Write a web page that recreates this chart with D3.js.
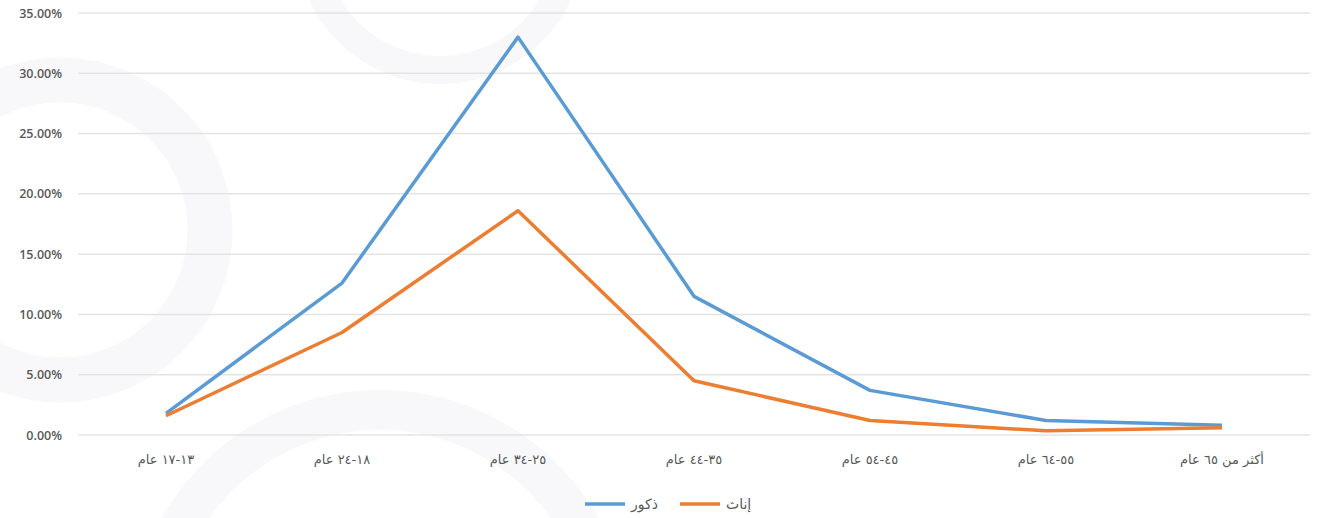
<!DOCTYPE html>
<html>
<head>
<meta charset="utf-8">
<script src="https://cdn.jsdelivr.net/npm/d3@7"></script>
<style>
  html, body { margin: 0; padding: 0; background: #ffffff; }
  svg { display: block; }
</style>
</head>
<body>
<svg id="chart" width="1322" height="518"></svg>
<script>
const categories = ["١٣-١٧ عام", "١٨-٢٤ عام", "٢٥-٣٤ عام", "٣٥-٤٤ عام", "٤٥-٥٤ عام", "٥٥-٦٤ عام", "أكثر من ٦٥ عام"];
const males   = [1.8, 12.6, 33.0, 11.5, 3.7, 1.2, 0.8];
const females = [1.6, 8.5, 18.6, 4.5, 1.2, 0.35, 0.6];
const yTicks  = [0, 5, 10, 15, 20, 25, 30, 35];
const seriesNames = ["ذكور", "إناث"];

const svg = d3.select("#chart");
const W = 1322, H = 518;
const margin = { left: 78, right: 12, top: 13, bottom: 83 };

// faint watermark decoration
const wm = svg.append("g").attr("fill", "none").attr("stroke", "#f8f8fa");
wm.append("circle").attr("cx", 440).attr("cy", -60).attr("r", 130).attr("stroke-width", 28);
wm.append("circle").attr("cx", 60).attr("cy", 230).attr("r", 150).attr("stroke-width", 45);
wm.append("circle").attr("cx", 380).attr("cy", 640).attr("r", 230).attr("stroke-width", 40);

const x = d3.scaleBand().domain(categories).range([margin.left, W - margin.right]);
const y = d3.scaleLinear().domain([0, 35]).range([H - margin.bottom, margin.top]);

// gridlines
svg.append("g").selectAll("line").data(yTicks).join("line")
  .attr("x1", margin.left).attr("x2", W - margin.right)
  .attr("y1", d => y(d)).attr("y2", d => y(d))
  .attr("stroke", "#e4e4e4").attr("stroke-width", 1.5);

// y axis labels
const yAxis = d3.axisLeft(y).tickValues(yTicks).tickSize(0).tickPadding(16)
  .tickFormat(d => d.toFixed(2) + "%");
const yg = svg.append("g").attr("transform", `translate(${margin.left},0)`).call(yAxis);
yg.select(".domain").remove();
yg.selectAll("text").attr("font-family", "'Open Sans', sans-serif").attr("font-size", 12.5)
  .attr("font-weight", 600).attr("fill", "#595959");

// x axis labels
const xAxis = d3.axisBottom(x).tickSize(0).tickPadding(20);
const xg = svg.append("g").attr("transform", `translate(0,${y(0)})`).call(xAxis);
xg.select(".domain").remove();
xg.selectAll("text").attr("font-family", "'DejaVu Sans', sans-serif").attr("font-size", 13)
  .attr("fill", "#595959").attr("direction", "rtl");

const line = d3.line().x((d, i) => x(categories[i]) + x.bandwidth() / 2).y(d => y(d));

svg.append("path").datum(males).attr("d", line).attr("fill", "none")
  .attr("stroke", "#5b9bd5").attr("stroke-width", 3.5).attr("stroke-linejoin", "round");
svg.append("path").datum(females).attr("d", line).attr("fill", "none")
  .attr("stroke", "#ed7d31").attr("stroke-width", 3.5).attr("stroke-linejoin", "round");

// legend
const legend = svg.append("g");
const items = [
  { name: seriesNames[0], color: "#5b9bd5", x: 585 },
  { name: seriesNames[1], color: "#ed7d31", x: 680 }
];
items.forEach(it => {
  legend.append("line").attr("x1", it.x).attr("x2", it.x + 40)
    .attr("y1", 504).attr("y2", 504).attr("stroke", it.color).attr("stroke-width", 3.5);
  legend.append("text").attr("x", it.x + 46).attr("y", 509)
    .attr("font-family", "'DejaVu Sans', sans-serif").attr("font-size", 14)
    .attr("fill", "#595959").attr("direction", "rtl").attr("text-anchor", "end").text(it.name);
});
</script>
</body>
</html>
